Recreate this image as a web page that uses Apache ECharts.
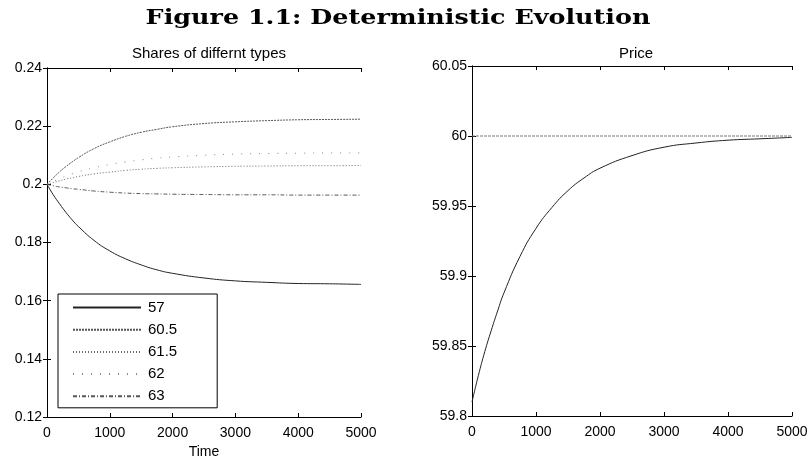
<!DOCTYPE html>
<html>
<head>
<meta charset="utf-8">
<script src="https://cdn.jsdelivr.net/npm/echarts@6/dist/echarts.min.js"></script>
<style>
  html, body { margin: 0; padding: 0; background: #fff; }
  #chart { width: 812px; height: 459px; }
</style>
</head>
<body>
<div id="chart"></div>
<script>
// time steps
const times = [0, 100, 200, 300, 400, 500, 750, 1000, 1250, 1500, 1750, 2000, 2500, 3000, 3500, 4000, 4500, 5000]

// shares of the different types
const typeNames = ['57', '60.5', '61.5', '62', '63']
const share57 = [0.2000, 0.1964, 0.1933, 0.1904, 0.1878, 0.1855, 0.1807, 0.1771, 0.1744, 0.1723, 0.1706, 0.1694, 0.1678, 0.1668, 0.1663, 0.1659, 0.1658, 0.1656]
const share605 = [0.2000, 0.2022, 0.2043, 0.2061, 0.2077, 0.2092, 0.2123, 0.2146, 0.2165, 0.2179, 0.2189, 0.2198, 0.2209, 0.2215, 0.2219, 0.2222, 0.2223, 0.2224]
const share615 = [0.2000, 0.2006, 0.2012, 0.2018, 0.2022, 0.2027, 0.2036, 0.2042, 0.2048, 0.2052, 0.2055, 0.2057, 0.2060, 0.2062, 0.2063, 0.2064, 0.2064, 0.2065]
const share62 = [0.2000, 0.2010, 0.2020, 0.2028, 0.2036, 0.2043, 0.2057, 0.2068, 0.2077, 0.2084, 0.2090, 0.2094, 0.2100, 0.2104, 0.2106, 0.2107, 0.2108, 0.2108]
const share63 = [0.2000, 0.1995, 0.1991, 0.1988, 0.1985, 0.1983, 0.1977, 0.1973, 0.1970, 0.1968, 0.1967, 0.1966, 0.1965, 0.1964, 0.1964, 0.1963, 0.1963, 0.1963]

// price path and fundamental level
const price = [59.810, 59.829, 59.846, 59.861, 59.875, 59.888, 59.914, 59.934, 59.949, 59.961, 59.970, 59.977, 59.986, 59.992, 59.995, 59.997, 59.998, 59.999]
const fundamental = [60, 60, 60, 60, 60, 60, 60, 60, 60, 60, 60, 60, 60, 60, 60, 60, 60, 60]

const pair = (ys) => times.map((t, i) => [t, ys[i]])

const chart = echarts.init(document.getElementById('chart'))

const tickFont = { fontFamily: 'Liberation Sans', fontSize: 14, color: '#000' }
const lineAxis = { show: true, lineStyle: { color: '#000', width: 1 } }
const tickIn = { show: true, inside: true, length: 4, lineStyle: { color: '#000' } }
const plain = (v) => String(Math.round(v * 1000) / 1000)

// bottom / top / left / right axes for one panel
const xPair = (grid, withName) => [
  {
    type: 'value', gridIndex: grid, min: 0, max: 5000, interval: 1000, position: 'bottom',
    axisLine: lineAxis, axisTick: tickIn, splitLine: { show: false },
    axisLabel: Object.assign({ margin: 9, formatter: plain }, tickFont),
    name: withName ? 'Time' : '', nameLocation: 'middle', nameGap: 25,
    nameTextStyle: tickFont
  },
  {
    type: 'value', gridIndex: grid, min: 0, max: 5000, interval: 1000, position: 'top',
    axisLine: lineAxis, axisTick: tickIn, axisLabel: { show: false }, splitLine: { show: false }
  }
]
const yPair = (grid, min, max, step) => [
  {
    type: 'value', gridIndex: grid, min: min, max: max, interval: step, position: 'left',
    axisLine: lineAxis, axisTick: tickIn, splitLine: { show: false },
    axisLabel: Object.assign({ margin: 5, formatter: plain }, tickFont)
  },
  {
    type: 'value', gridIndex: grid, min: min, max: max, interval: step, position: 'right',
    axisLine: lineAxis, axisTick: tickIn, axisLabel: { show: false }, splitLine: { show: false }
  }
]

const shareStyles = [
  { color: '#222', width: 1, type: 'solid' },
  { color: '#555', width: 1, type: [2, 1] },
  { color: '#666', width: 1, type: [1, 2] },
  { color: '#888', width: 1, type: [1, 8] },
  { color: '#555', width: 1, type: [4, 2, 1, 2] }
]
const shareData = [share57, share605, share615, share62, share63]

const shareSeries = typeNames.map((name, i) => ({
  name: name,
  type: 'line',
  xAxisIndex: 0,
  yAxisIndex: 0,
  data: pair(shareData[i]),
  smooth: true,
  symbol: 'none',
  lineStyle: shareStyles[i],
  itemStyle: { color: shareStyles[i].color }
}))

chart.setOption({
  animation: false,
  title: [
    {
      text: 'Shares of differnt types', left: 204, top: 41, textAlign: 'center',
      textStyle: { fontFamily: 'Liberation Sans', fontWeight: 'normal', fontSize: 15, color: '#000' }
    },
    {
      text: 'Price', left: 631, top: 41, textAlign: 'center',
      textStyle: { fontFamily: 'Liberation Sans', fontWeight: 'normal', fontSize: 15, color: '#000' }
    }
  ],
  graphic: [
    {
      type: 'text', x: 398, y: 19, scaleX: 1.27,
      style: {
        text: 'Figure 1.1: Deterministic Evolution',
        font: 'bold 20px "DejaVu Serif"', fill: '#000',
        textAlign: 'center', textVerticalAlign: 'middle'
      }
    }
  ],
  legend: {
    data: typeNames,
    orient: 'vertical',
    left: 58, top: 294,
    width: 144,
    padding: [6, 40, 4, 14],
    itemWidth: 68, itemHeight: 14, itemGap: 7.2,
    itemStyle: { opacity: 0 },
    borderColor: '#000', borderWidth: 1,
    backgroundColor: '#fff',
    textStyle: { fontFamily: 'Liberation Sans', fontSize: 15, lineHeight: 14, color: '#000', padding: [0, 0, 0, 2] }
  },
  grid: [
    { left: 47, right: 451, top: 68, bottom: 42, outerBoundsMode: 'none' },
    { left: 472, right: 20, top: 66, bottom: 43, outerBoundsMode: 'none' }
  ],
  xAxis: xPair(0, true).concat(xPair(1, false)),
  yAxis: yPair(0, 0.12, 0.24, 0.02).concat(yPair(1, 59.8, 60.05, 0.05)),
  series: shareSeries.concat([
    {
      name: 'price', type: 'line', xAxisIndex: 2, yAxisIndex: 2,
      data: pair(price), smooth: true, symbol: 'none',
      lineStyle: { color: '#222', width: 1 }
    },
    {
      name: 'fundamental', type: 'line', xAxisIndex: 2, yAxisIndex: 2,
      data: pair(fundamental), symbol: 'none',
      lineStyle: { color: '#777', width: 1, type: [3, 1] }
    }
  ])
})
</script>
</body>
</html>
